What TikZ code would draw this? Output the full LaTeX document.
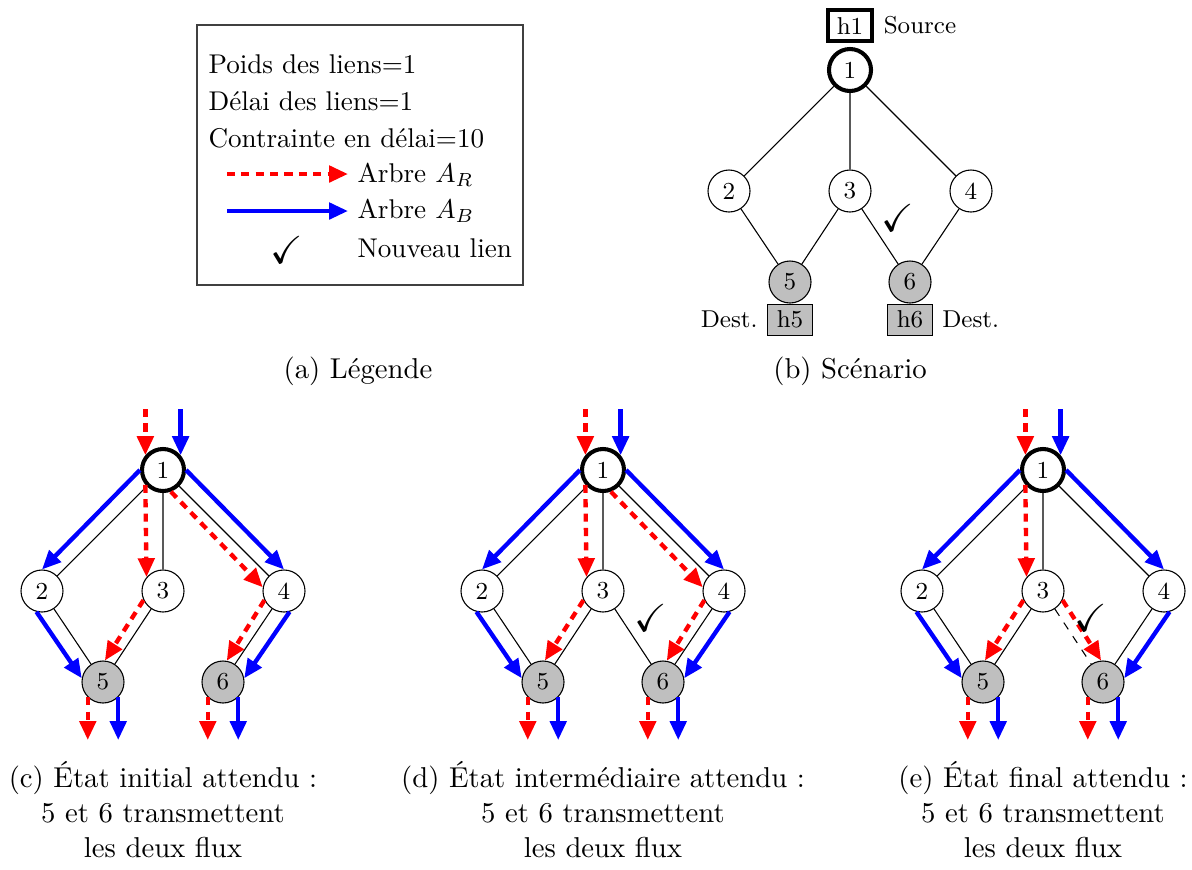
\documentclass[tikz,border=0pt]{standalone}
\usepackage{amssymb}
\usepackage{tikz}
\usetikzlibrary{positioning, calc, arrows.meta}

\begin{document}
\begin{tikzpicture}[
    x=0.369pt, y=-0.369pt,
    font=\fontsize{9}{11}\selectfont,
    sommet/.style={circle, draw=black, fill=white, minimum size=15.5pt, inner sep=0pt},
    source/.style={sommet, line width=1.5pt},
    dest/.style={sommet, fill=gray!50},
    hote/.style={rectangle, draw=black, inner xsep=3.3pt, inner ysep=2.5pt},
    lien/.style={black, thin},
    arbreR/.style={red, line width=1.6pt, dash pattern=on 3pt off 2.3pt, -{Triangle[length=7pt, width=6pt]}},
    arbreB/.style={blue, line width=1.6pt, -{Triangle[length=7pt, width=6pt]}},
    legende/.style={font=\fontsize{10}{12}\selectfont, anchor=base west, inner sep=3.33pt},
    soustitre/.style={font=\fontsize{10.6}{12.9}\selectfont, align=center, anchor=base}
]

\useasboundingbox (0,0) rectangle (1192,869);

% (a) Legende
\draw[black!75] (197,25) rectangle (523,285);
\node[legende] (poids) at (199,73) {Poids des liens=1};
\node[legende] (delai) at (199,110) {Délai des liens=1};
\node[legende] (contrainte) at (199,147) {Contrainte en délai=10};
\node[legende] (legR) at (348,182) {Arbre $A_R$};
\node[legende] (legB) at (348,218) {Arbre $A_B$};
\node[legende] (legN) at (348,257) {Nouveau lien};
\coordinate (debR) at (227,174);
\coordinate (debB) at (227,211);
\draw[arbreR] (debR) -- (debR -| legR.west);
\draw[arbreB] (debB) -- (debB -| legB.west);
\node (coche) at (287,250) {\Large\checkmark};
\node[soustitre] (capA) at (358,378) {(a) Légende};

% (b) Scenario
\begin{scope}[shift={(850,70)}]
\node[source] (s1) at (0,0) {1};
\node[sommet] (s2) at (-121,121) {2};
\node[sommet] (s3) at (0,121) {3};
\node[sommet] (s4) at (121,121) {4};
\node[dest] (s5) at (-60,212) {5};
\node[dest] (s6) at (60,212) {6};
\node[hote, line width=1.5pt, above=1.5pt of s1] (h1) {h1};
\node[right=0pt of h1] (src) {Source};
\node[hote, fill=gray!50, below=0pt of s5] (h5) {h5};
\node[left=0pt of h5] (dst5) {Dest.};
\node[hote, fill=gray!50, below=0pt of s6] (h6) {h6};
\node[right=0pt of h6] (dst6) {Dest.};
\draw[lien] (s1) -- (s2) (s1) -- (s3) (s1) -- (s4);
\draw[lien] (s2) -- (s5) (s3) -- (s5) (s3) -- (s6) (s4) -- (s6);
\node (coche-s) at (48,148) {\Large\checkmark};
\end{scope}
\node[soustitre] (capB) at (850,378) {(b) Scénario};

% (c) Etat initial
\begin{scope}[shift={(163,470)}]
\node[source] (c1) at (0,0) {1};
\node[sommet] (c2) at (-121,121) {2};
\node[sommet] (c3) at (0,121) {3};
\node[sommet] (c4) at (121,121) {4};
\node[dest] (c5) at (-60,212) {5};
\node[dest] (c6) at (60,212) {6};
\coordinate (c-haut) at (0,-61);
\coordinate (c-bas) at (0,270);
\draw[lien] (c1) -- (c2) (c1) -- (c3) (c1) -- (c4);
\draw[lien] (c2) -- (c5) (c3) -- (c5) (c4) -- (c6);
\draw[arbreR] (c-haut -| c1.140) -- (c1.140);
\draw[arbreB] (c-haut -| c1.40) -- (c1.40);
\draw[arbreB] (c1.west) -- (c2.north);
\draw[arbreR] (c1.-140) -- (c3.140);
\draw[arbreR] (c1.-70) -- (c4.170);
\draw[arbreB] (c1.east) -- (c4.north);
\draw[arbreB] (c2.-105) -- (c5.170);
\draw[arbreR] (c3.-155) -- (c5.85);
\draw[arbreR] (c4.-155) -- (c6.80);
\draw[arbreB] (c4.-75) -- (c6.10);
\draw[arbreR] (c5.-135) -- (c5.-135 |- c-bas);
\draw[arbreB] (c5.-45) -- (c5.-45 |- c-bas);
\draw[arbreR] (c6.-135) -- (c6.-135 |- c-bas);
\draw[arbreB] (c6.-45) -- (c6.-45 |- c-bas);
\node[soustitre] (capC) at (0,387) {(c) État initial attendu :\\5 et 6 transmettent\\les deux flux};
\end{scope}

% (d) Etat intermediaire
\begin{scope}[shift={(603,470)}]
\node[source] (d1) at (0,0) {1};
\node[sommet] (d2) at (-121,121) {2};
\node[sommet] (d3) at (0,121) {3};
\node[sommet] (d4) at (121,121) {4};
\node[dest] (d5) at (-60,212) {5};
\node[dest] (d6) at (60,212) {6};
\coordinate (d-haut) at (0,-61);
\coordinate (d-bas) at (0,270);
\draw[lien] (d1) -- (d2) (d1) -- (d3) (d1) -- (d4);
\draw[lien] (d2) -- (d5) (d3) -- (d5) (d3) -- (d6) (d4) -- (d6);
\draw[arbreR] (d-haut -| d1.140) -- (d1.140);
\draw[arbreB] (d-haut -| d1.40) -- (d1.40);
\draw[arbreB] (d1.west) -- (d2.north);
\draw[arbreR] (d1.-140) -- (d3.140);
\draw[arbreR] (d1.-70) -- (d4.170);
\draw[arbreB] (d1.east) -- (d4.north);
\draw[arbreB] (d2.-105) -- (d5.170);
\draw[arbreR] (d3.-155) -- (d5.85);
\draw[arbreR] (d4.-155) -- (d6.80);
\draw[arbreB] (d4.-75) -- (d6.10);
\draw[arbreR] (d5.-135) -- (d5.-135 |- d-bas);
\draw[arbreB] (d5.-45) -- (d5.-45 |- d-bas);
\draw[arbreR] (d6.-135) -- (d6.-135 |- d-bas);
\draw[arbreB] (d6.-45) -- (d6.-45 |- d-bas);
\node (coche-d) at (48,148) {\Large\checkmark};
\node[soustitre] (capD) at (0,387) {(d) État intermédiaire attendu :\\5 et 6 transmettent\\les deux flux};
\end{scope}

% (e) Etat final
\begin{scope}[shift={(1043,470)}]
\node[source] (e1) at (0,0) {1};
\node[sommet] (e2) at (-121,121) {2};
\node[sommet] (e3) at (0,121) {3};
\node[sommet] (e4) at (121,121) {4};
\node[dest] (e5) at (-60,212) {5};
\node[dest] (e6) at (60,212) {6};
\coordinate (e-haut) at (0,-61);
\coordinate (e-bas) at (0,270);
\draw[lien] (e1) -- (e2) (e1) -- (e3) (e1) -- (e4);
\draw[lien] (e2) -- (e5) (e3) -- (e5) (e4) -- (e6);
\draw[lien, dashed] (e3) -- (e6);
\draw[arbreR] (e-haut -| e1.140) -- (e1.140);
\draw[arbreB] (e-haut -| e1.40) -- (e1.40);
\draw[arbreB] (e1.west) -- (e2.north);
\draw[arbreR] (e1.-140) -- (e3.140);
\draw[arbreB] (e1.east) -- (e4.north);
\draw[arbreB] (e2.-105) -- (e5.170);
\draw[arbreR] (e3.-155) -- (e5.85);
\draw[arbreR] (e3.-25) -- (e6.95);
\draw[arbreB] (e4.-75) -- (e6.10);
\draw[arbreR] (e5.-135) -- (e5.-135 |- e-bas);
\draw[arbreB] (e5.-45) -- (e5.-45 |- e-bas);
\draw[arbreR] (e6.-135) -- (e6.-135 |- e-bas);
\draw[arbreB] (e6.-45) -- (e6.-45 |- e-bas);
\node (coche-e) at (48,148) {\Large\checkmark};
\node[soustitre] (capE) at (0,387) {(e) État final attendu :\\5 et 6 transmettent\\les deux flux};
\end{scope}

\end{tikzpicture}
\end{document}
